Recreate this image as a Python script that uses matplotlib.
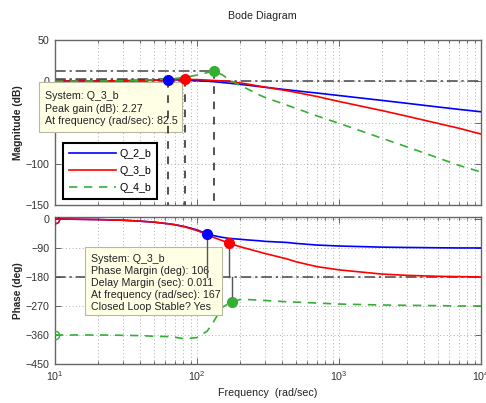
import numpy as np
import matplotlib
matplotlib.use('Agg')
import matplotlib.pyplot as plt
from matplotlib.patches import Rectangle
from matplotlib.ticker import LogLocator, NullFormatter, FixedLocator, FixedFormatter

plt.rcParams['font.family'] = ['Liberation Sans', 'DejaVu Sans']
plt.rcParams['mathtext.fontset'] = 'custom'
plt.rcParams['mathtext.rm'] = 'Liberation Sans'

# ---------------- data ----------------
series_names = ['Q_2_b', 'Q_3_b', 'Q_4_b']
freq = np.array([10, 20, 30, 40, 50, 62.5, 70, 82.5, 100, 118, 132, 150, 167, 176,
                 200, 225, 278, 300, 430, 500, 700, 1000, 2000, 3000, 5000, 7000, 10000])

mag_q2 = np.array([0.1, 0.3, 0.6, 0.9, 1.3, 1.9, 1.8, 1.3, 0.6, 0.0, -0.6, -1.5, -2.3, -2.7,
                   -3.7, -4.7, -6.6, -7.3, -10.3, -11.6, -14.3, -17.3, -23.2, -26.7, -31.2, -34.1, -37.0])
mag_q3 = np.array([0.1, 0.3, 0.6, 0.9, 1.3, 1.8, 2.0, 2.27, 2.0, 1.4, 0.9, 0.4, 0.0, -0.6,
                   -2.0, -3.3, -6.1, -7.0, -11.5, -13.5, -18.5, -24.5, -35.5, -42.3, -51.2, -57.0, -64.0])
mag_q4 = np.array([0.1, 0.3, 0.7, 1.2, 1.9, 2.8, 3.4, 4.7, 7.4, 10.5, 12.0, 8.0, 2.5, 0.0,
                   -5.0, -9.0, -17.0, -19.5, -29.0, -33.0, -42.0, -51.0, -69.0, -79.5, -93.0, -102.0, -110.0])

ph_q2 = np.array([0, -2, -4, -7, -10, -15, -18, -24, -34, -46, -52, -57, -60, -61,
                  -63, -65, -68, -69.5, -73, -76, -81, -84, -87.5, -88.5, -89.5, -90, -90])
ph_q3 = np.array([0, -2, -4, -7, -10, -15, -18, -25, -36, -49, -58, -67, -74, -78,
                  -86, -92, -103, -107, -124, -133, -148, -158, -171, -175, -178, -179, -180])
ph_q4 = np.array([-360, -360, -361, -362, -364, -365, -367, -372, -368, -348, -316, -275, -262, -258,
                  -250, -250, -252, -253, -257, -258, -261, -264, -267, -268, -269, -270, -270])

peak_freq = [62.5, 82.5, 132]        # peak-gain data tips
cross_freq = [118, 167, 176]         # gain crossover (phase margin) points

mag_ticks = [-150, -100, -50, 0, 50]
mag_ticklabels = ['\u2212150', '\u2212100', '', '0', '50']   # -50 is hidden under the data tip
ph_ticks = [-450, -360, -270, -180, -90, 0]
ph_ticklabels = ['\u2212450', '\u2212360', '\u2212270', '\u2212180', '\u221290', '0']

colors = ['#0000ff', '#ff0000', '#33b033']
styles = ['-', '-', '--']
mags = [mag_q2, mag_q3, mag_q4]
phs = [ph_q2, ph_q3, ph_q4]

# ---------------- figure ----------------
W, H = 486, 403
fig = plt.figure(figsize=(W / 100, H / 100), dpi=100)
FS = 7.7


def box(l, t, r, b):
    return [l / W, 1 - b / H, (r - l) / W, (b - t) / H]


ax1 = fig.add_axes(box(55, 40, 481, 205))
ax2 = fig.add_axes(box(55, 217, 481, 364))

tick_col = '#333333'
spine_col = '#666666'
refc = '#454545'
dashdot = (0, (7, 2.5, 1.5, 2.5))

for ax in (ax1, ax2):
    ax.set_xscale('log')
    ax.set_xlim(10, 10000)
    ax.xaxis.set_major_locator(LogLocator(base=10, numticks=10))
    ax.xaxis.set_minor_locator(LogLocator(base=10, subs=np.arange(2, 10), numticks=20))
    ax.xaxis.set_minor_formatter(NullFormatter())
    ax.grid(True, which='major', color='#b0b0b0', linestyle=(0, (1, 2.5)), linewidth=0.7)
    ax.grid(True, which='minor', axis='x', color='#b0b0b0', linestyle=(0, (1, 2.5)), linewidth=0.7)
    ax.tick_params(which='both', direction='in', top=True, right=True, colors=spine_col,
                   labelcolor=tick_col, labelsize=FS, width=0.7)
    ax.tick_params(which='major', length=4)
    ax.tick_params(which='minor', length=2)
    ax.tick_params(axis='y', pad=4)
    ax.tick_params(axis='x', pad=4)
    for s in ax.spines.values():
        s.set_color(spine_col)
        s.set_linewidth(1.0)

# ---------- magnitude ----------
ax1.set_ylim(-150, 50)
ax1.yaxis.set_major_locator(FixedLocator(mag_ticks))
ax1.yaxis.set_major_formatter(FixedFormatter(mag_ticklabels))
ax1.tick_params(axis='x', labelbottom=False)
ax1.axhline(0, color=refc, linestyle=dashdot, linewidth=1.1, zorder=2)

for m, c, ls, name in zip(mags, colors, styles, series_names):
    ax1.plot(freq, m, color=c, linestyle=ls, linewidth=1.2, label=name, zorder=3,
             dashes=(5, 4) if ls == '--' else (None, None))

for pf, m, c in zip(peak_freq, mags, colors):
    pv = m[np.where(freq == pf)[0][0]]
    ax1.plot([freq[0], pf], [pv, pv], color=refc, linestyle=dashdot, linewidth=1.1, zorder=2)
    ax1.plot([pf, pf], [pv, -150], color='#222222', linestyle=(0, (5, 5)), linewidth=1.1, zorder=7)
    ax1.plot([pf], [pv], 'o', color=c, markersize=7, zorder=8)

ax1.set_ylabel('Magnitude (dB)', fontsize=7.4, fontweight='bold', color='#222222', labelpad=2)

leg = ax1.legend(loc='upper left', bbox_to_anchor=(8 / 426, 62 / 165), borderaxespad=0,
                 fontsize=FS, handlelength=4.4, labelspacing=0.65, handletextpad=0.3,
                 borderpad=0.55, fancybox=False, framealpha=1)
leg.get_frame().set_edgecolor('black')
leg.get_frame().set_linewidth(1.5)
leg.set_zorder(9)

# ---------- phase ----------
ax2.set_ylim(-450, 6)
ax2.yaxis.set_major_locator(FixedLocator(ph_ticks))
ax2.yaxis.set_major_formatter(FixedFormatter(ph_ticklabels))
ax2.axhline(-180, color=refc, linestyle=dashdot, linewidth=1.1, zorder=2)

for p, c, ls in zip(phs, colors, styles):
    ax2.plot(freq, p, color=c, linestyle=ls, linewidth=1.2, zorder=3,
             dashes=(5, 4) if ls == '--' else (None, None))
    ax2.plot([freq[0]], [p[0]], 'o', mfc='none', mec=c, markersize=6, mew=1.0, zorder=4)

for cf, p, c in zip(cross_freq, phs, colors):
    pv = p[np.where(freq == cf)[0][0]]
    ax2.plot([cf, cf], [pv, -180], color='#555555', linewidth=1.0, zorder=7)
    ax2.plot([cf], [pv], 'o', color=c, markersize=7, zorder=8)

ax2.set_ylabel('Phase (deg)', fontsize=7.2, fontweight='bold', color='#222222', labelpad=2)
ax2.set_xlabel('Frequency  (rad/sec)', fontsize=FS, color='#222222', labelpad=3)

fig.text(262 / W, 1 - 16 / H, 'Bode Diagram', ha='center', va='center', fontsize=FS, color='#222222')


# ---------- data tips ----------
def datatip(ax, l, t, r, b, lines, y0, dy):
    rect = Rectangle((l / W, 1 - b / H), (r - l) / W, (b - t) / H, transform=fig.transFigure,
                     facecolor='#ffffe6', edgecolor='#b8b8a0', linewidth=0.8, zorder=5, clip_on=False)
    ax.add_patch(rect)
    for k, s in enumerate(lines):
        ax.text((l + 6) / W, 1 - (y0 + k * dy) / H, s, transform=fig.transFigure, fontsize=FS,
                color='#222222', va='center', ha='left', zorder=6, clip_on=False)


datatip(ax1, 39, 82, 182, 132,
        ['System: Q_3_b', 'Peak gain (dB): 2.27', 'At frequency (rad/sec): 82.5'], 96, 12.5)
datatip(ax2, 85, 247, 222, 315,
        ['System: Q_3_b', 'Phase Margin (deg): 106', 'Delay Margin (sec): 0.011',
         'At frequency (rad/sec): 167', 'Closed Loop Stable? Yes'], 259, 12)

fig.savefig('out.png', dpi=100)
